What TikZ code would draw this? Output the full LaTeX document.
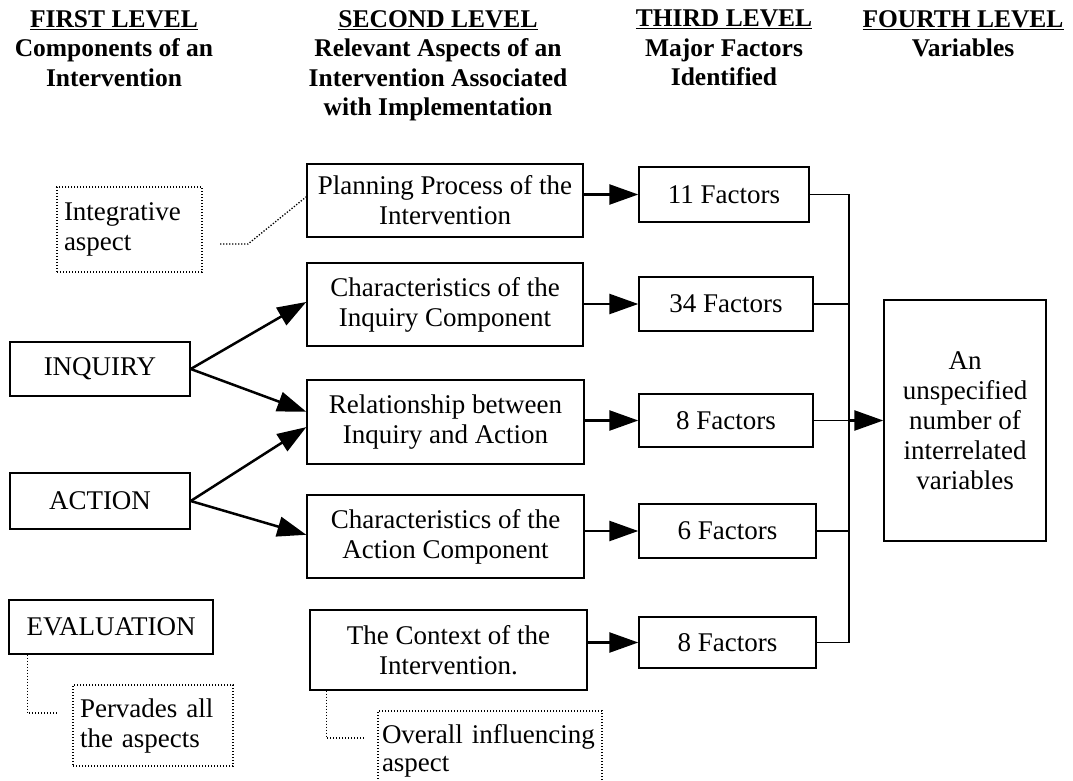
\documentclass[tikz,border=0pt]{standalone}
\usepackage{fontspec}
\setmainfont{Liberation Serif}
\usetikzlibrary{arrows.meta,calc}
\begin{document}
\begin{tikzpicture}[x=1pt,y=-1pt,
  txt/.style={font=\fontsize{27}{30}\selectfont, align=center},
  box/.style={draw, line width=1.4pt, txt, inner sep=0pt},
  dotbox/.style={draw, line width=1.3pt, dash pattern=on 1.3pt off 1.7pt,
    font=\fontsize{27}{30}\selectfont, align=left, inner xsep=7pt, inner ysep=0pt},
  head/.style={font=\bfseries\fontsize{25.5}{29.5}\selectfont, align=center,
    inner sep=0pt, anchor=north},
  arr/.style={line width=2.5pt, -{Triangle[length=29pt,width=20pt]}},
  link/.style={line width=1.3pt},
  dotlink/.style={line width=1.3pt, dash pattern=on 1.3pt off 1.7pt},
]
\useasboundingbox (0,0) rectangle (1073,781);

% column headings
\node[head] (h1) at (114,10) {\underline{FIRST LEVEL}\\Components of an\\Intervention};
\node[head] (h2) at (438,10) {\underline{SECOND LEVEL}\\Relevant Aspects of an\\Intervention Associated\\with Implementation};
\node[head] (h3) at (724,10) {\underline{THIRD LEVEL}\\Major Factors\\Identified};
\node[head] (h4) at (963,10) {\underline{FOURTH LEVEL}\\Variables};

% first level
\node[dotbox, text width=131pt, minimum height=85pt] (integ) at (129.5,229.5) {Integrative\\aspect};
\node[box, minimum width=180pt, minimum height=54pt] (inquiry) at (100,369) {INQUIRY};
\node[box, minimum width=180pt, minimum height=56pt] (action) at (100,501) {ACTION};
\node[box, minimum width=204pt, minimum height=54pt] (evaluation) at (111,627) {EVALUATION};
\node[dotbox, text width=146pt, minimum height=81pt] (pervades) at (153,725.5) {Pervades all\\the aspects};

% second level
\node[box, minimum width=276pt, minimum height=73pt] (plan) at (445,200.5) {Planning Process of the\\Intervention};
\node[box, minimum width=276pt, minimum height=83pt] (charinq) at (445,304.5) {Characteristics of the\\Inquiry Component};
\node[box, minimum width=277pt, minimum height=84pt] (rel) at (445.5,422) {Relationship between\\Inquiry and Action};
\node[box, minimum width=277pt, minimum height=83pt] (charact) at (445.5,536.5) {Characteristics of the\\Action Component};
\node[box, minimum width=277pt, minimum height=80pt] (context) at (448.5,650) {The Context of the\\Intervention.};
\node[dotbox, text width=216pt, minimum height=79pt, inner xsep=4pt,
  font=\fontsize{27}{28}\selectfont] (overall) at (490,750.5) {Overall influencing\\aspect};

% third level
\node[box, minimum width=170pt, minimum height=55pt] (f11) at (724,194.5) {11 Factors};
\node[box, minimum width=174pt, minimum height=54pt] (f34) at (726,304) {34 Factors};
\node[box, minimum width=174pt, minimum height=53pt] (f8a) at (726,420.5) {8 Factors};
\node[box, minimum width=177pt, minimum height=54pt] (f6) at (727.5,531) {6 Factors};
\node[box, minimum width=177pt, minimum height=51pt] (f8b) at (727.5,642.5) {8 Factors};

% fourth level
\node[box, minimum width=162pt, minimum height=241pt] (big) at (965,420.5) {An\\unspecified\\number of\\interrelated\\variables};

% dotted annotation links
\coordinate (igStart) at (220,244);
\coordinate (igBend) at (248,244);
\draw[dotlink] (igStart) -- (igBend) -- ($(plan.north west)!0.45!(plan.south west)$);
\coordinate (pvEnd) at (57,713);
\draw[dotlink] ($(evaluation.south west)+(19,0)$) |- (pvEnd);
\coordinate (ovEnd) at (365,738);
\draw[dotlink] ($(context.south west)+(17,0)$) |- (ovEnd);

% first to second level
\draw[arr] (inquiry.east) -- ($(charinq.north west)!0.47!(charinq.south west)$);
\draw[arr] (inquiry.east) -- ($(rel.north west)!0.38!(rel.south west)$);
\draw[arr] (action.east) -- ($(rel.north west)!0.56!(rel.south west)$);
\draw[arr] (action.east) -- ($(charact.north west)!0.48!(charact.south west)$);

% second to third level
\draw[arr] (plan.east |- f11.west) -- (f11.west);
\draw[arr] (charinq.east |- f34.west) -- (f34.west);
\draw[arr] (rel.east |- f8a.west) -- (f8a.west);
\draw[arr] (charact.east |- f6.west) -- (f6.west);
\draw[arr] (context.east |- f8b.west) -- (f8b.west);

% collecting bus to fourth level
\coordinate (bx) at (849,0);
\draw[link] (f11.east) -- (f11.east -| bx) -- (f8b.east -| bx) -- (f8b.east);
\draw[link] (f34.east) -- (f34.east -| bx);
\draw[link] (f8a.east) -- (f8a.east -| bx);
\draw[link] (f6.east) -- (f6.east -| bx);
\draw[arr] (f8a.east -| bx) -- (big.west);
\end{tikzpicture}
\end{document}
